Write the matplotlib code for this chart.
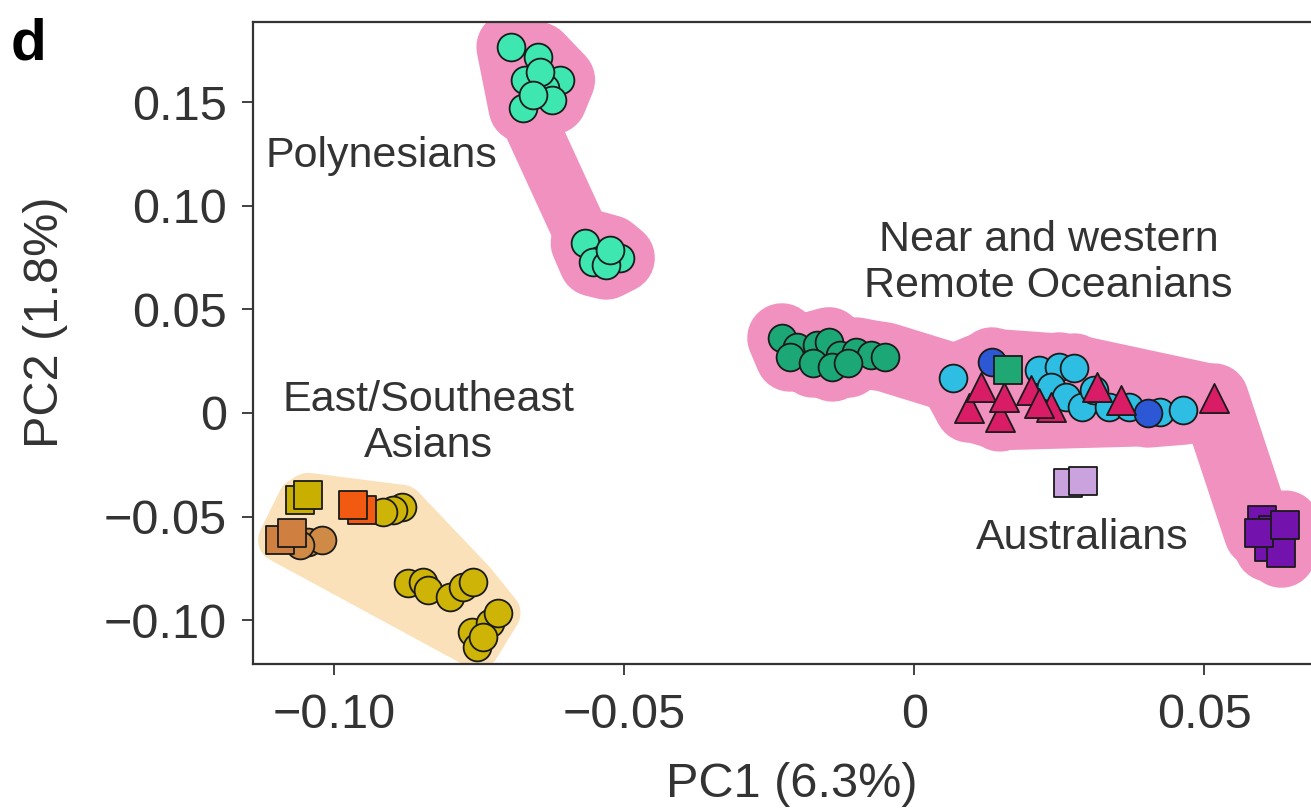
import numpy as np
import matplotlib
matplotlib.use('Agg')
import matplotlib.pyplot as plt

plt.rcParams['font.family'] = ['Liberation Sans', 'DejaVu Sans']

# -- datos (PC1, PC2) --
poly_x = [-0.0695, -0.0648, -0.0610, -0.0671, -0.0636, -0.0674, -0.0624, -0.0645, -0.0657,
          -0.0567, -0.0541, -0.0507, -0.0553, -0.0531, -0.0524]
poly_y = [0.1766, 0.1718, 0.1607, 0.1607, 0.1569, 0.1472, 0.1511, 0.1646, 0.1535,
          0.0820, 0.0738, 0.0748, 0.0729, 0.0714, 0.0787]

ea_yellow_sq_x = [-0.1059, -0.1045]
ea_yellow_sq_y = [-0.0420, -0.0396]
ea_brown_sq_x = [-0.1093, -0.1072]
ea_brown_sq_y = [-0.0613, -0.0579]
ea_brown_ci_x = [-0.1045, -0.1021, -0.1059]
ea_brown_ci_y = [-0.0623, -0.0613, -0.0637]
ea_orange_sq_x = [-0.0952, -0.0967]
ea_orange_sq_y = [-0.0468, -0.0444]
ea_yellow_ci_x = [-0.0883, -0.0898, -0.0916,
                  -0.0872, -0.0847, -0.0838, -0.0800, -0.0778, -0.0760,
                  -0.0762, -0.0753, -0.0731, -0.0717, -0.0743]
ea_yellow_ci_y = [-0.0454, -0.0468, -0.0478,
                  -0.0820, -0.0816, -0.0854, -0.0888, -0.0840, -0.0816,
                  -0.1057, -0.1129, -0.1014, -0.0965, -0.1081]

oc_green_x = [-0.0228, -0.0202, -0.0167, -0.0147, -0.0128, -0.0100, -0.0074, -0.0050,
              -0.0214, -0.0174, -0.0141, -0.0114]
oc_green_y = [0.0362, 0.0319, 0.0328, 0.0343, 0.0280, 0.0294, 0.0280, 0.0270,
              0.0270, 0.0241, 0.0222, 0.0241]
oc_cyan_x = [0.0067, 0.0216, 0.0250, 0.0276, 0.0236, 0.0262, 0.0290, 0.0310, 0.0336, 0.0371, 0.0424, 0.0464]
oc_cyan_y = [0.0169, 0.0208, 0.0222, 0.0217, 0.0125, 0.0077, 0.0029, 0.0111, 0.0029, 0.0029, 0.0005, 0.0014]
oc_blue_x = [0.0134, 0.0403]
oc_blue_y = [0.0246, 0.0]
oc_greensq_x = [0.0162]
oc_greensq_y = [0.0208]
oc_tri_x = [0.0095, 0.0116, 0.0148, 0.0202, 0.0236, 0.0316, 0.0357, 0.0517, 0.0155, 0.0216]
oc_tri_y = [0.0024, 0.0125, -0.0019, 0.0111, 0.0029, 0.0125, 0.0063, 0.0072, 0.0077, 0.0048]
oc_purple_x = [0.0600, 0.0619, 0.0612, 0.0633, 0.0594, 0.0640]
oc_purple_y = [-0.0516, -0.0565, -0.0647, -0.0676, -0.0579, -0.0541]

aus_x = [0.0266, 0.0291]
aus_y = [-0.0338, -0.0328]

xticks = [-0.10, -0.05, 0, 0.05]
xtick_labels = ['\u22120.10', '\u22120.05', '0', '0.05']
yticks = [-0.10, -0.05, 0, 0.05, 0.10, 0.15]
ytick_labels = ['\u22120.10', '\u22120.05', '0', '0.05', '0.10', '0.15']

# -- colores --
c_pink_hull = '#F091BF'
c_orange_hull = '#FBE1B9'
c_text = '#333333'

fig = plt.figure(figsize=(13.11, 8.10), dpi=100, facecolor='white')
ax = fig.add_axes([0.193, 0.180, 0.8215, 0.7928])
ax.set_xlim(-0.114, 0.0717)
ax.set_ylim(-0.1212, 0.1886)


def convex_hull(xs, ys):
    # cadena monotona (Andrew); se trabaja en pixeles para que el borde sea isotropo
    pts = ax.transData.transform(np.column_stack([xs, ys]))
    pts = sorted(map(tuple, pts))

    def cross(o, a, b):
        return (a[0] - o[0]) * (b[1] - o[1]) - (a[1] - o[1]) * (b[0] - o[0])

    lower, upper = [], []
    for p in pts:
        while len(lower) >= 2 and cross(lower[-2], lower[-1], p) <= 0:
            lower.pop()
        lower.append(p)
    for p in reversed(pts):
        while len(upper) >= 2 and cross(upper[-2], upper[-1], p) <= 0:
            upper.pop()
        upper.append(p)
    h = np.array(lower[:-1] + upper[:-1])
    return ax.transData.inverted().transform(h)


def hull_blob(xs, ys, color, lw):
    h = convex_hull(xs, ys)
    ax.fill(h[:, 0], h[:, 1], color=color, lw=lw, ec=color, joinstyle='round', zorder=1)


def hull_band(xs, ys, color, lw, by_y=False):
    xs = np.asarray(xs)
    ys = np.asarray(ys)
    order = np.argsort(-ys if by_y else xs)
    ax.plot(xs[order], ys[order], color=color, lw=lw, solid_joinstyle='round',
            solid_capstyle='round', zorder=1)


# envolventes
px = np.asarray(poly_x)
py = np.asarray(poly_y)
top = py > 0.12
hull_blob(px[top], py[top], c_pink_hull, 50)
hull_blob(px[~top], py[~top], c_pink_hull, 50)
hull_band(poly_x, poly_y, c_pink_hull, 40, by_y=True)

ea_all_x = ea_yellow_sq_x + ea_brown_sq_x + ea_brown_ci_x + ea_orange_sq_x + ea_yellow_ci_x
ea_all_y = ea_yellow_sq_y + ea_brown_sq_y + ea_brown_ci_y + ea_orange_sq_y + ea_yellow_ci_y
hull_blob(ea_all_x, ea_all_y, c_orange_hull, 32)

oc_mix_x = oc_cyan_x + oc_blue_x + oc_greensq_x + oc_tri_x
oc_mix_y = oc_cyan_y + oc_blue_y + oc_greensq_y + oc_tri_y
hull_blob(oc_green_x, oc_green_y, c_pink_hull, 40)
hull_blob(oc_mix_x, oc_mix_y, c_pink_hull, 48)
hull_blob(oc_purple_x, oc_purple_y, c_pink_hull, 42)
hull_band(oc_green_x + oc_mix_x + oc_purple_x, oc_green_y + oc_mix_y + oc_purple_y,
          c_pink_hull, 50)

kw = dict(edgecolors='#1a1a1a', linewidths=1.3, zorder=3)
s_ci, s_sq, s_tri = 400, 380, 440

ax.scatter(poly_x, poly_y, s=s_ci, marker='o', c='#3EE6B0', **kw)

ax.scatter(ea_yellow_ci_x, ea_yellow_ci_y, s=s_ci, marker='o', c='#CDB407', **kw)
ax.scatter(ea_brown_ci_x, ea_brown_ci_y, s=s_ci, marker='o', c='#CF8A45', **kw)
ax.scatter(ea_brown_sq_x, ea_brown_sq_y, s=s_sq, marker='s', c='#CF8040', **kw)
ax.scatter(ea_yellow_sq_x, ea_yellow_sq_y, s=s_sq, marker='s', c='#C9B000', **kw)
ax.scatter(ea_orange_sq_x, ea_orange_sq_y, s=s_sq, marker='s', c='#F25A12', **kw)

ax.scatter(oc_green_x, oc_green_y, s=s_ci, marker='o', c='#1CA876', **kw)
ax.scatter(oc_cyan_x, oc_cyan_y, s=s_ci, marker='o', c='#2EBDE3', **kw)
ax.scatter(oc_blue_x, oc_blue_y, s=s_ci, marker='o', c='#2C58D6', **kw)
ax.scatter(oc_tri_x, oc_tri_y, s=s_tri, marker='^', c='#D81C66', **kw)
ax.scatter(oc_greensq_x, oc_greensq_y, s=s_sq, marker='s', c='#1FA874', **kw)
ax.scatter(oc_purple_x, oc_purple_y, s=s_sq, marker='s', c='#7412AE', **kw)
ax.scatter(aus_x, aus_y, s=s_sq, marker='s', c='#C9A2DE', **kw)

# etiquetas de grupos
ax.text(-0.0918, 0.1238, 'Polynesians', ha='center', va='center', fontsize=31, color=c_text)
ax.text(0.0232, 0.0725, 'Near and western\nRemote Oceanians', ha='center', va='center',
        fontsize=31, color=c_text, linespacing=1.2)
ax.text(-0.0838, -0.0048, 'East/Southeast\nAsians', ha='center', va='center',
        fontsize=31, color=c_text, linespacing=1.2)
ax.text(0.0289, -0.0604, 'Australians', ha='center', va='center', fontsize=31, color=c_text)

# ejes
ax.set_xticks(xticks)
ax.set_xticklabels(xtick_labels)
ax.set_yticks(yticks)
ax.set_yticklabels(ytick_labels)
ax.tick_params(axis='both', labelsize=35, colors=c_text, length=8, width=1.3)
ax.tick_params(axis='x', pad=13)
ax.tick_params(axis='y', pad=11)
for name, spine in ax.spines.items():
    spine.set_color('#333333')
    spine.set_linewidth(1.6)
ax.spines['right'].set_visible(False)

ax.set_xlabel('PC1 (6.3%)', fontsize=35, color=c_text, labelpad=17)
ax.set_ylabel('PC2 (1.8%)', fontsize=35, color=c_text)
ax.yaxis.set_label_coords(-0.172, 0.533)

fig.text(0.008, 0.978, 'd', fontsize=42, fontweight='bold', ha='left', va='top', color='black')

fig.savefig('out.png', dpi=100, facecolor='white')
